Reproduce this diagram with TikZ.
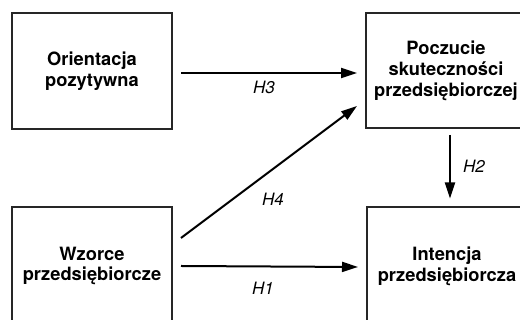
\documentclass[tikz,border=0pt]{standalone}
\usepackage{fontspec}
\setmainfont{TeX Gyre Heros}
\usetikzlibrary{arrows.meta}
\begin{document}
\begin{tikzpicture}[x=1pt,y=1pt,
  box/.style={draw=black!85, line width=2pt, minimum width=160pt, align=center,
    font=\bfseries\fontsize{18.3}{20.8}\selectfont, inner sep=0pt},
  arr/.style={line width=2pt, -{Triangle[length=16pt,width=10pt]}},
  hlab/.style={font=\itshape\fontsize{17}{18}\selectfont, inner sep=0pt}]
\useasboundingbox (0,0) rectangle (520,320);
\clip (0,0) rectangle (520,320);
\node[box, minimum height=116pt] (A) at (92,249) {Orientacja\\pozytywna};
\node[box, minimum height=115pt] (B) at (446,249.5) {Poczucie\\skuteczności\\przedsiębiorczej};
\node[box, minimum height=118pt] (C) at (92,54) {Wzorce\\przedsiębiorcze};
\node[box, minimum height=118pt] (D) at (447,53.5) {Intencja\\przedsiębiorcza};
\draw[arr] ([xshift=8pt,yshift=-2pt]A.east) -- ([xshift=-8pt,yshift=-2.5pt]B.west);
\draw[arr] ([xshift=8pt,yshift=28pt]C.east) -- ([xshift=-8pt,yshift=-35.5pt]B.west);
\draw[arr] ([xshift=8pt]C.east) -- ([xshift=-8pt,yshift=-0.5pt]D.west);
\draw[arr] ([xshift=4pt,yshift=-6pt]B.south) -- ([xshift=3pt,yshift=8pt]D.north);
\node[hlab] (h3) at (264,233) {H3};
\node[hlab] (h4) at (273,121) {H4};
\node[hlab] (h1) at (263,32) {H1};
\node[hlab] (h2) at (474,154) {H2};
\end{tikzpicture}
\end{document}
